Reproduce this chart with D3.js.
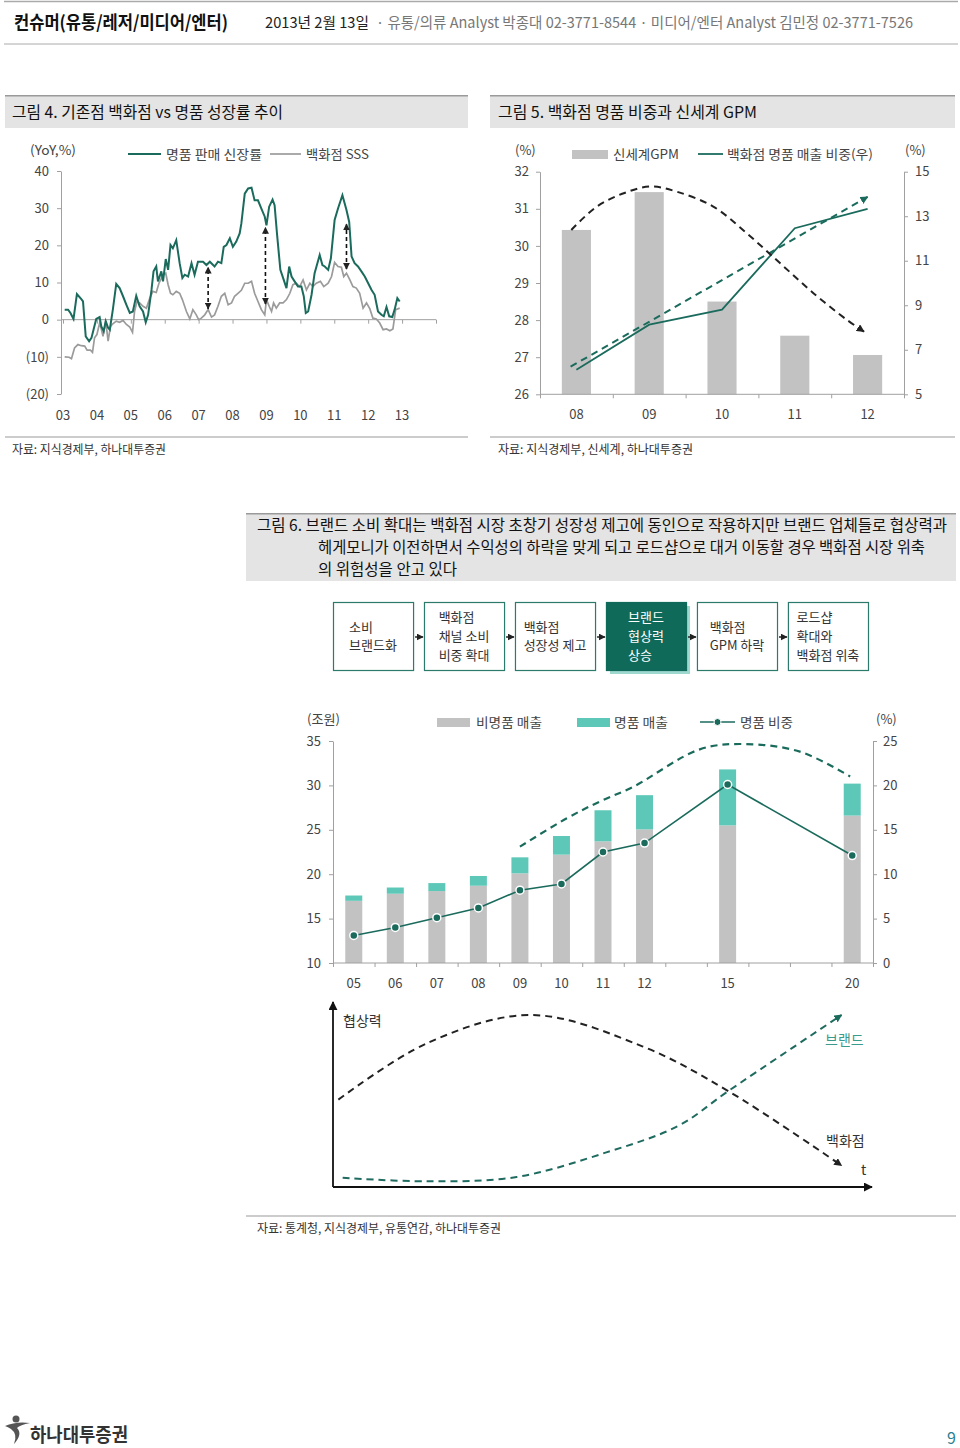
<!DOCTYPE html>
<html><head><meta charset="utf-8">
<script src="https://cdn.jsdelivr.net/npm/d3@7"></script>
<style>
body{margin:0;background:#fff;}
svg text{font-family:"Noto Sans CJK KR","Noto Sans",sans-serif;}
</style></head><body>
<svg id="page" width="960" height="1448"></svg>
<script>
// ================= DATA =================
// Figure 4
const f4YearLabels = ["03","04","05","06","07","08","09","10","11","12","13"];
const f4YTicks = [40,30,20,10,0,-10,-20];
const luxGrowth = [[2003.05,2.7],[2003.15,2.7],[2003.22,1.8],[2003.31,0.2],[2003.41,6.9],[2003.54,5.5],[2003.59,4.9],[2003.67,-4.5],[2003.77,-5.8],[2003.84,-4.9],[2003.90,-2.7],[2003.98,0.2],[2004.08,0.7],[2004.13,-1.8],[2004.20,-3.1],[2004.26,-0.4],[2004.33,-2.2],[2004.38,-2.7],[2004.47,2.7],[2004.57,9.6],[2004.67,8.5],[2004.77,6.3],[2004.87,4.0],[2004.97,1.8],[2005.06,2.2],[2005.16,6.4],[2005.26,3.6],[2005.36,2.2],[2005.44,-0.7],[2005.51,1.3],[2005.61,8.0],[2005.67,13.0],[2005.75,14.3],[2005.80,10.3],[2005.90,13.0],[2005.95,10.3],[2006.03,16.3],[2006.10,13.4],[2006.17,20.1],[2006.24,19.2],[2006.34,21.4],[2006.44,15.2],[2006.52,11.2],[2006.59,12.1],[2006.69,11.6],[2006.79,15.2],[2006.88,12.1],[2006.98,15.6],[2007.13,15.6],[2007.23,14.7],[2007.33,15.6],[2007.47,14.3],[2007.57,15.6],[2007.67,15.2],[2007.74,19.6],[2007.82,20.1],[2007.92,21.9],[2008.01,19.6],[2008.11,21.0],[2008.21,23.2],[2008.26,25.9],[2008.36,33.9],[2008.46,35.3],[2008.56,35.5],[2008.65,32.1],[2008.75,32.1],[2008.85,29.9],[2008.95,27.7],[2009.00,25.4],[2009.08,30.4],[2009.18,32.3],[2009.24,30.8],[2009.31,23.2],[2009.41,13.4],[2009.51,10.7],[2009.59,8.5],[2009.67,14.3],[2009.74,11.6],[2009.83,10.3],[2009.93,8.9],[2010.03,8.9],[2010.10,6.3],[2010.16,1.8],[2010.23,2.2],[2010.33,6.7],[2010.42,12.5],[2010.57,17.4],[2010.65,14.7],[2010.72,14.3],[2010.82,13.4],[2010.90,16.5],[2011.01,26.8],[2011.11,29.9],[2011.24,33.5],[2011.36,29.5],[2011.44,26.3],[2011.51,17.0],[2011.60,15.2],[2011.70,14.3],[2011.80,13.0],[2011.90,11.6],[2012.00,9.8],[2012.10,8.0],[2012.19,6.7],[2012.29,2.2],[2012.39,1.3],[2012.46,0.9],[2012.54,3.4],[2012.62,0.9],[2012.71,0.7],[2012.78,2.7],[2012.86,5.8],[2012.93,4.9]];
const deptSSS = [[2003.05,-10.0],[2003.18,-10.1],[2003.25,-10.5],[2003.34,-7.6],[2003.44,-6.7],[2003.54,-7.0],[2003.64,-7.1],[2003.71,-8.2],[2003.81,-8.2],[2003.87,-8.8],[2003.93,-4.9],[2004.00,-4.0],[2004.08,-0.9],[2004.13,-2.5],[2004.18,-4.5],[2004.26,-0.4],[2004.33,-5.8],[2004.40,-1.8],[2004.47,-1.1],[2004.57,-0.4],[2004.67,-0.7],[2004.77,-0.2],[2004.87,-1.3],[2004.97,-2.0],[2005.05,-3.4],[2005.11,2.2],[2005.18,4.9],[2005.26,4.5],[2005.36,3.6],[2005.46,3.1],[2005.56,5.8],[2005.65,7.6],[2005.75,7.3],[2005.83,9.8],[2005.95,12.0],[2006.03,12.5],[2006.10,9.4],[2006.17,7.1],[2006.24,6.7],[2006.34,7.6],[2006.44,7.1],[2006.52,5.4],[2006.64,2.2],[2006.74,0.2],[2006.83,2.7],[2006.93,1.3],[2007.00,0.0],[2007.08,0.4],[2007.18,1.3],[2007.28,2.7],[2007.38,0.7],[2007.47,1.3],[2007.57,3.6],[2007.67,6.3],[2007.77,7.1],[2007.87,4.0],[2007.97,4.5],[2008.06,6.3],[2008.16,7.1],[2008.26,7.9],[2008.36,9.8],[2008.46,9.8],[2008.56,10.3],[2008.65,7.1],[2008.75,4.9],[2008.85,2.7],[2008.95,1.3],[2009.00,5.4],[2009.08,3.6],[2009.15,2.2],[2009.21,4.5],[2009.29,3.1],[2009.39,4.5],[2009.49,4.5],[2009.59,5.4],[2009.69,7.1],[2009.78,9.4],[2009.88,9.8],[2009.98,8.9],[2010.08,10.7],[2010.18,8.0],[2010.28,9.8],[2010.37,8.9],[2010.47,9.8],[2010.59,10.3],[2010.69,8.9],[2010.82,9.8],[2010.92,11.6],[2011.01,15.4],[2011.11,14.3],[2011.21,14.1],[2011.28,11.6],[2011.36,12.5],[2011.46,10.7],[2011.55,8.9],[2011.65,8.5],[2011.75,7.1],[2011.85,3.1],[2011.95,4.5],[2012.05,2.9],[2012.14,0.4],[2012.24,0.2],[2012.34,-0.9],[2012.44,-2.7],[2012.54,-2.5],[2012.64,-3.0],[2012.73,-2.5],[2012.81,2.7],[2012.93,3.1]];
const gapArrowT = [2007.28, 2008.97, 2011.36];
const gapArrowLow = [2.9, 4.2, 13.6];
const gapArrowHigh = [14.1, 24.8, 25.7];

// Figure 5
const f5Cats = ["08","09","10","11","12"];
const f5GPM = [30.43,31.45,28.5,27.58,27.06];
const f5LuxShare = [6.1,8.13,8.8,12.46,13.33];
const f5LeftTicks = [26,27,28,29,30,31,32];
const f5RightTicks = [5,7,9,11,13,15];
const f5GpmTrend = [[-0.07,30.43],[0.28,31.06],[0.65,31.42],[1.02,31.6],[1.38,31.46],[1.88,31.06],[2.34,30.34],[2.80,29.53],[3.26,28.72],[3.72,28.0],[3.95,27.69]];
const f5ShareTrend = [[-0.08,6.24],[4.0,13.87]];

// Figure 6 flow
const flowSteps = [["소비","브랜드화"],["백화점","채널 소비","비중 확대"],["백화점","성장성 제고"],["브랜드","협상력","상승"],["백화점","GPM 하락"],["로드샵","확대와","백화점 위축"]];
const flowHighlight = 3;

// Figure 6 chart
const f6Cats = ["05","06","07","08","09","10","11","12","15","20"];
const f6Slot = [0,1,2,3,4,5,6,7,9,12];
const f6NonLux = [17.0,17.8,18.1,18.7,20.1,22.2,23.7,25.05,25.5,26.6];
const f6Lux = [0.6,0.7,0.9,1.1,1.8,2.1,3.5,3.85,6.3,3.6];
const f6Share = [3.1,4.0,5.1,6.2,8.2,8.9,12.5,13.5,20.1,12.1];
const f6LeftTicks = [35,30,25,20,15,10];
const f6RightTicks = [25,20,15,10,5,0];
const f6Trend = [[4,23.1],[5.13,26.3],[5.93,28.2],[6.73,29.85],[8.33,34.06],[9.38,34.66],[10.74,33.8],[11.95,31.0]];

// Figure 6 diagram (relative negotiating power over time)
const deptPower = [[0.01,0.48],[0.175,0.79],[0.369,0.945],[0.576,0.773],[0.736,0.527],[0.947,0.118]];
const brandPower = [[0.018,0.051],[0.175,0.031],[0.342,0.055],[0.509,0.19],[0.643,0.336],[0.736,0.527],[0.947,0.945]];

// ================= DRAWING =================
const FONT = '"Noto Sans CJK KR","Noto Sans",sans-serif';
const GREEN = "#1b6b5d", TEAL = "#5ec8b8", GRAY = "#c2c2c2", AXIS = "#a0a0a0", LBL = "#444";
const svg = d3.select("#page");
svg.append("rect").attr("width",960).attr("height",1448).attr("fill","#fff");

const defs = svg.append("defs");
function marker(id, color, size){
  defs.append("marker").attr("id",id).attr("viewBox","0 0 10 10").attr("refX",9).attr("refY",5)
    .attr("markerWidth",size).attr("markerHeight",size).attr("markerUnits","userSpaceOnUse")
    .attr("orient","auto-start-reverse")
    .append("path").attr("d","M0,0 L10,5 L0,10 z").attr("fill",color);
}
marker("arBlack","#222",8); marker("arTeal",GREEN,8); marker("arSmall","#222",7); marker("arAxis","#111",9);

function T(p, x, y, s, o={}){
  const t = p.append("text").attr("x",x).attr("y",y).text(s)
    .attr("font-size",o.size||13).attr("fill",o.fill||"#333")
    .attr("font-weight",o.weight||400).attr("text-anchor",o.anchor||"start")
    .attr("font-family",FONT);
  if(o.w) t.attr("textLength",o.w).attr("lengthAdjust","spacingAndGlyphs");
  return t;
}
function styleAxis(g){
  g.attr("font-family",FONT).attr("font-size",13);
  g.selectAll("path,line").attr("stroke",AXIS);
  g.selectAll("text").attr("fill",LBL);
}
const intFmt = d3.format("d");

// ---- Header ----
svg.append("line").attr("x1",4).attr("x2",958).attr("y1",1.5).attr("y2",1.5).attr("stroke","#aaa").attr("stroke-width",1.5);
svg.append("line").attr("x1",4).attr("x2",958).attr("y1",44).attr("y2",44).attr("stroke","#aaa").attr("stroke-width",1);
T(svg,14,29,"컨슈머(유통/레저/미디어/엔터)",{size:18,weight:700,fill:"#111",w:214});
T(svg,265,28,"2013년 2월 13일",{size:15,fill:"#222",w:104});
T(svg,376,28,"· 유통/의류 Analyst 박종대 02-3771-8544 · 미디어/엔터 Analyst 김민정 02-3771-7526",{size:15,fill:"#777",w:537});

// ---- Title boxes ----
function titleBox(x,y,w,h){
  svg.append("rect").attr("x",x).attr("y",y).attr("width",w).attr("height",h).attr("fill","#e4e4e4");
  svg.append("line").attr("x1",x).attr("x2",x+w).attr("y1",y+0.75).attr("y2",y+0.75).attr("stroke","#9a9a9a").attr("stroke-width",1.5);
}
titleBox(5,95,463,33);
titleBox(490,95,465,33);
T(svg,12,118,"그림 4. 기존점 백화점 vs 명품 성장률 추이",{size:16,fill:"#111",w:271});
T(svg,498,118,"그림 5. 백화점 명품 비중과 신세계 GPM",{size:16,fill:"#111",w:259});

// source lines fig4/5
svg.append("line").attr("x1",5).attr("x2",468).attr("y1",437).attr("y2",437).attr("stroke","#999");
svg.append("line").attr("x1",490).attr("x2",955).attr("y1",437).attr("y2",437).attr("stroke","#999");
T(svg,12,454,"자료: 지식경제부, 하나대투증권",{size:12.5,fill:"#333",w:154});
T(svg,498,454,"자료: 지식경제부, 신세계, 하나대투증권",{size:12.5,fill:"#333",w:195});

// ---- Figure 4 ----
(function(){
  const g = svg.append("g");
  const x = d3.scaleLinear().domain([2003,2014]).range([63,436]);
  const y = d3.scaleLinear().domain([-20,40]).range([394,171]);
  const ya = g.append("g").attr("transform","translate(61,0)")
    .call(d3.axisLeft(y).tickValues(f4YTicks).tickSize(4).tickSizeOuter(0).tickPadding(8)
      .tickFormat(v => v<0 ? `(${-v})` : v));
  styleAxis(ya);
  const yearTicks = d3.range(2003,2015);
  const xa = g.append("g").attr("transform",`translate(0,${y(0)})`)
    .call(d3.axisBottom(x).tickValues(yearTicks).tickSize(4).tickSizeOuter(0).tickFormat(""));
  styleAxis(xa);
  xa.select(".domain").remove();
  g.append("line").attr("x1",61).attr("x2",436).attr("y1",y(0)).attr("y2",y(0)).attr("stroke",AXIS);
  f4YearLabels.forEach((lab,i)=>{
    T(g,x(2003+i),420,lab,{size:13,fill:LBL,anchor:"middle"});
  });
  const line = d3.line().x(d=>x(d[0])).y(d=>y(d[1]));
  g.append("path").datum(deptSSS).attr("d",line).attr("fill","none").attr("stroke","#9b9b9b").attr("stroke-width",1.7);
  g.append("path").datum(luxGrowth).attr("d",line).attr("fill","none").attr("stroke",GREEN).attr("stroke-width",2);
  gapArrowT.forEach((t,i)=>{
    g.append("line").attr("x1",x(t)).attr("x2",x(t)).attr("y1",y(gapArrowLow[i])).attr("y2",y(gapArrowHigh[i]))
      .attr("stroke","#111").attr("stroke-width",1.6).attr("stroke-dasharray","4,3")
      .attr("marker-start","url(#arSmall)").attr("marker-end","url(#arSmall)");
  });
  // legend
  T(g,30,155,"(YoY,%)",{size:13,fill:LBL,w:46});
  g.append("line").attr("x1",128).attr("x2",161).attr("y1",154).attr("y2",154).attr("stroke",GREEN).attr("stroke-width",2);
  T(g,166,159,"명품 판매 신장률",{size:13,fill:LBL,w:96});
  g.append("line").attr("x1",270).attr("x2",301).attr("y1",154).attr("y2",154).attr("stroke","#9b9b9b").attr("stroke-width",1.7);
  T(g,306,159,"백화점 SSS",{size:13,fill:LBL,w:63});
})();

// ---- Figure 5 ----
(function(){
  const g = svg.append("g");
  const xb = d3.scaleBand().domain(f5Cats).range([540,904]).paddingInner(0.6).paddingOuter(0.3);
  const xi = d3.scaleLinear().domain([0,4]).range([xb(f5Cats[0])+xb.bandwidth()/2, xb(f5Cats[4])+xb.bandwidth()/2]);
  const yL = d3.scaleLinear().domain([26,32]).range([394.3,171.7]);
  const yR = d3.scaleLinear().domain([5,15]).range([394.3,171.7]);
  g.selectAll("rect.bar").data(f5GPM).join("rect").attr("class","bar")
    .attr("x",(d,i)=>xb(f5Cats[i])).attr("width",xb.bandwidth())
    .attr("y",d=>yL(d)).attr("height",d=>yL(26)-yL(d)).attr("fill",GRAY);
  const la = g.append("g").attr("transform","translate(540,0)")
    .call(d3.axisLeft(yL).tickValues(f5LeftTicks).tickFormat(intFmt).tickSize(4).tickSizeOuter(0).tickPadding(7));
  styleAxis(la);
  const ra = g.append("g").attr("transform","translate(904,0)")
    .call(d3.axisRight(yR).tickValues(f5RightTicks).tickFormat(intFmt).tickSize(4).tickSizeOuter(0).tickPadding(7));
  styleAxis(ra);
  const bounds = d3.range(0,6).map(i=>i-0.5);
  const ba = g.append("g").attr("transform","translate(0,394.3)")
    .call(d3.axisBottom(xi).tickValues(bounds).tickSize(4).tickSizeOuter(0).tickFormat(""));
  styleAxis(ba); ba.select(".domain").remove();
  g.append("line").attr("x1",540).attr("x2",904).attr("y1",394.3).attr("y2",394.3).attr("stroke",AXIS);
  f5Cats.forEach((c,i)=>T(g,xi(i),419,c,{size:13,fill:LBL,anchor:"middle"}));
  // share line
  g.append("path").datum(f5LuxShare).attr("d",d3.line().x((d,i)=>xi(i)).y(d=>yR(d)))
    .attr("fill","none").attr("stroke",GREEN).attr("stroke-width",1.8);
  // trend annotations
  g.append("path").datum(f5ShareTrend).attr("d",d3.line().x(d=>xi(d[0])).y(d=>yR(d[1])))
    .attr("fill","none").attr("stroke",GREEN).attr("stroke-width",2).attr("stroke-dasharray","7,5")
    .attr("marker-end","url(#arTeal)");
  g.append("path").datum(f5GpmTrend).attr("d",d3.line().curve(d3.curveCatmullRom).x(d=>xi(d[0])).y(d=>yL(d[1])))
    .attr("fill","none").attr("stroke","#222").attr("stroke-width",2).attr("stroke-dasharray","7,5")
    .attr("marker-end","url(#arBlack)");
  // legend
  T(g,515,155,"(%)",{size:13,fill:LBL});
  T(g,905,155,"(%)",{size:13,fill:LBL});
  g.append("rect").attr("x",572).attr("y",150).attr("width",36).attr("height",9).attr("fill",GRAY);
  T(g,613,159,"신세계GPM",{size:13,fill:LBL,w:66});
  g.append("line").attr("x1",698).attr("x2",723).attr("y1",154).attr("y2",154).attr("stroke",GREEN).attr("stroke-width",1.8);
  T(g,727,159,"백화점 명품 매출 비중(우)",{size:13,fill:LBL,w:146});
})();

// ---- Figure 6 title ----
svg.append("rect").attr("x",246).attr("y",513).attr("width",710).attr("height",68).attr("fill","#e4e4e4");
svg.append("line").attr("x1",246).attr("x2",956).attr("y1",513.75).attr("y2",513.75).attr("stroke","#9a9a9a").attr("stroke-width",1.5);
T(svg,257,531,"그림 6. 브랜드 소비 확대는 백화점 시장 초창기 성장성 제고에 동인으로 작용하지만 브랜드 업체들로 협상력과",{size:15.5,fill:"#111",w:690});
T(svg,318,553,"헤게모니가 이전하면서 수익성의 하락을 맞게 되고 로드샵으로 대거 이동할 경우 백화점 시장 위축",{size:15.5,fill:"#111",w:607});
T(svg,318,575,"의 위험성을 안고 있다",{size:15.5,fill:"#111",w:139});

// ---- Flow boxes ----
(function(){
  const g = svg.append("g");
  const xb = d3.scaleBand().domain(d3.range(flowSteps.length)).range([333,868]).paddingInner(0.12);
  const top = 602, h = 68;
  flowSteps.forEach((lines,i)=>{
    const x0 = xb(i), w = xb.bandwidth();
    const hl = i===flowHighlight;
    if(hl){
      g.append("rect").attr("x",x0+4).attr("y",top+4).attr("width",w).attr("height",h).attr("fill","#9fd8cf");
    }
    g.append("rect").attr("x",x0+0.5).attr("y",top+0.5).attr("width",w).attr("height",h)
      .attr("fill",hl?"#0f6a5a":"#fff").attr("stroke",hl?"#0f6a5a":"#2c7a6c").attr("stroke-width",1.2);
    const lh = 18.8, startY = top + h/2 - (lines.length-1)*lh/2 + 5;
    const tg = g.append("g");
    const ts = lines.map((s,k)=>T(tg,0,startY+k*lh,s,{size:13,fill:hl?"#fff":"#333"}));
    const mw = d3.max(ts.map(t=>t.node().getComputedTextLength()));
    tg.attr("transform",`translate(${x0 + w/2 - mw/2},0)`);
    if(i<flowSteps.length-1){
      const nx = xb(i+1);
      g.append("line").attr("x1",x0+w+2).attr("x2",nx-1).attr("y1",top+h/2+1).attr("y2",top+h/2+1)
        .attr("stroke","#222").attr("stroke-width",1.5).attr("marker-end","url(#arSmall)");
    }
  });
})();

// ---- Figure 6 chart ----
(function(){
  const g = svg.append("g");
  const xs = d3.scaleLinear().domain([-0.5,12.5]).range([333,873]);
  const yL = d3.scaleLinear().domain([10,35]).range([963,741]);
  const yR = d3.scaleLinear().domain([0,25]).range([963,741]);
  const rows = f6Cats.map((c,i)=>({cat:c, slot:f6Slot[i], nonlux:f6NonLux[i], lux:f6Lux[i], share:f6Share[i]}));
  const stack = d3.stack().keys(["nonlux","lux"])(rows);
  const colors = [GRAY, TEAL];
  const bw = 17;
  stack.forEach((layer,li)=>{
    g.selectAll(null).data(layer).join("rect")
      .attr("x",d=>xs(d.data.slot)-bw/2).attr("width",bw)
      .attr("y",d=>yL(d[1]))
      .attr("height",d=>yL(Math.max(d[0],10))-yL(d[1]))
      .attr("fill",colors[li]);
  });
  // axes
  const la = g.append("g").attr("transform","translate(333,0)")
    .call(d3.axisLeft(yL).tickValues(f6LeftTicks).tickSize(4).tickSizeOuter(0).tickPadding(8));
  styleAxis(la);
  const ra = g.append("g").attr("transform","translate(873,0)")
    .call(d3.axisRight(yR).tickValues(f6RightTicks).tickSize(4).tickSizeOuter(0).tickPadding(6));
  styleAxis(ra);
  const bounds = d3.range(0,14).map(i=>i-0.5);
  const ba = g.append("g").attr("transform","translate(0,963)")
    .call(d3.axisBottom(xs).tickValues(bounds).tickSize(4).tickSizeOuter(0).tickFormat(""));
  styleAxis(ba); ba.select(".domain").remove();
  g.append("line").attr("x1",333).attr("x2",873).attr("y1",963).attr("y2",963).attr("stroke",AXIS);
  rows.forEach(r=>T(g,xs(r.slot),988,r.cat,{size:13,fill:LBL,anchor:"middle"}));
  // trend dashed
  g.append("path").datum(f6Trend).attr("d",d3.line().curve(d3.curveCatmullRom).x(d=>xs(d[0])).y(d=>yL(d[1])))
    .attr("fill","none").attr("stroke",GREEN).attr("stroke-width",2.2).attr("stroke-dasharray","7,5");
  // share line
  g.append("path").datum(rows).attr("d",d3.line().x(d=>xs(d.slot)).y(d=>yR(d.share)))
    .attr("fill","none").attr("stroke",GREEN).attr("stroke-width",1.6);
  g.selectAll("circle.pt").data(rows).join("circle").attr("class","pt")
    .attr("cx",d=>xs(d.slot)).attr("cy",d=>yR(d.share)).attr("r",4)
    .attr("fill",GREEN).attr("stroke","#fff").attr("stroke-width",1.5);
  // legend
  T(g,307,724,"(조원)",{size:13,fill:LBL,w:33});
  T(g,876,724,"(%)",{size:13,fill:LBL});
  g.append("rect").attr("x",437).attr("y",718).attr("width",33).attr("height",9).attr("fill",GRAY);
  T(g,476,727,"비명품 매출",{size:13,fill:LBL,w:66});
  g.append("rect").attr("x",577).attr("y",718).attr("width",33).attr("height",9).attr("fill",TEAL);
  T(g,614,727,"명품 매출",{size:13,fill:LBL,w:54});
  g.append("line").attr("x1",700).attr("x2",735).attr("y1",722).attr("y2",722).attr("stroke",GREEN).attr("stroke-width",1.6);
  g.append("circle").attr("cx",717.5).attr("cy",722).attr("r",3.5).attr("fill",GREEN).attr("stroke","#fff").attr("stroke-width",1);
  T(g,740,727,"명품 비중",{size:13,fill:LBL,w:53});
})();

// ---- Figure 6 diagram ----
(function(){
  const g = svg.append("g");
  const dx = d3.scaleLinear().domain([0,1]).range([333,870]);
  const dy = d3.scaleLinear().domain([0,1]).range([1187,1005]);
  g.append("line").attr("x1",dx(0)).attr("x2",dx(0)).attr("y1",dy(0)).attr("y2",dy(1)-3)
    .attr("stroke","#111").attr("stroke-width",1.8).attr("marker-end","url(#arAxis)");
  g.append("line").attr("x1",dx(0)).attr("x2",dx(1)+2).attr("y1",dy(0)).attr("y2",dy(0))
    .attr("stroke","#111").attr("stroke-width",1.8).attr("marker-end","url(#arAxis)");
  const ln = d3.line().curve(d3.curveCatmullRom).x(d=>dx(d[0])).y(d=>dy(d[1]));
  g.append("path").datum(deptPower).attr("d",ln).attr("fill","none").attr("stroke","#222")
    .attr("stroke-width",2).attr("stroke-dasharray","7,5").attr("marker-end","url(#arBlack)");
  g.append("path").datum(brandPower).attr("d",ln).attr("fill","none").attr("stroke","#1f6b60")
    .attr("stroke-width",2).attr("stroke-dasharray","7,5").attr("marker-end","url(#arTeal)");
  T(g,343,1026,"협상력",{size:14,fill:"#333"});
  T(g,825,1045,"브랜드",{size:14,fill:"#3a9a8c"});
  T(g,826,1146,"백화점",{size:14,fill:"#333"});
  T(g,861,1175,"t",{size:14,fill:"#333"});
  svg.append("line").attr("x1",246).attr("x2",956).attr("y1",1216).attr("y2",1216).attr("stroke","#999");
  T(svg,257,1233,"자료: 통계청, 지식경제부, 유통연감, 하나대투증권",{size:12.5,fill:"#333",w:244});
})();

// ---- Footer ----
(function(){
  const g = svg.append("g");
  g.append("circle").attr("cx",16).attr("cy",1419).attr("r",3.5).attr("fill","#555");
  g.append("path").attr("d","M5,1426 Q16,1421 30,1423 Q20,1425 17,1428 Q23,1434 14,1444 Q18,1434 11,1429 Q8,1427 5,1426 Z").attr("fill","#555");
  T(g,30,1442,"하나대투증권",{size:19,weight:700,fill:"#333",w:98});
  T(g,947,1444,"9",{size:16,fill:"#2b7f8f"});
})();
</script>
</body></html>
